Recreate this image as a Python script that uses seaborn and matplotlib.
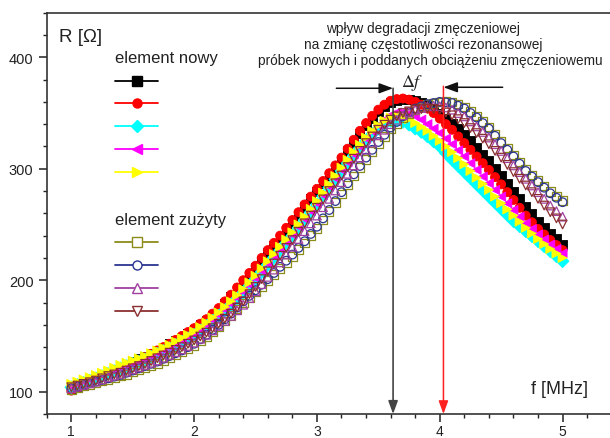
import numpy as np
import pandas as pd
import matplotlib
matplotlib.use("Agg")
import matplotlib.pyplot as plt
from matplotlib.lines import Line2D
from matplotlib.ticker import MultipleLocator
import seaborn as sns

# Measurement grid: frequency in MHz
freq_mhz = np.round(np.linspace(1.0, 5.0, 81), 2)

# Resistance R [Ohm] of new elements
r_new_1 = [102, 104.5, 107, 109.5, 112, 114.5, 117, 119.5, 122, 124.5, 127, 129.5, 132, 134.5, 137, 140,
           143, 146, 149, 152.5, 156, 160, 164, 168.5, 173, 179, 185, 191.5, 198, 204.5, 211, 218,
           225, 231.5, 238, 245, 252, 259, 266, 273, 280, 287, 294, 301, 308, 316, 324, 332,
           339, 345.5, 351, 355.5, 359, 361, 362, 362, 361, 359.5, 357, 354, 350, 345.5, 341, 336,
           331, 325, 319, 313, 307, 300.5, 294, 287, 280, 273, 266, 259.5, 253, 247.5, 242, 237, 232]
r_new_2 = [101, 103.5, 106, 108.5, 111, 113.5, 116, 118.5, 121, 123.5, 126, 128.5, 131, 134, 137, 140,
           143, 146.5, 150, 153.5, 157, 161, 165, 170, 175, 181, 187, 193.5, 200, 206.5, 213, 220,
           227, 233.5, 240, 247, 254, 261, 268, 275, 282, 289, 296, 303, 310, 318, 326, 334,
           341, 347.5, 353, 357.5, 361, 362.5, 363, 362, 360, 357.5, 354, 350, 345, 340, 335, 329,
           323, 317, 311, 305, 299, 292.5, 286, 279, 272, 265, 258, 252, 246, 241, 236, 231.5, 227]
r_new_3 = [104, 106, 108, 110, 112, 114, 116, 118.5, 121, 123, 125, 127, 129, 131.5, 134, 136.5,
           139, 142, 145, 148, 151, 155, 159, 163.5, 168, 173, 178, 183.5, 189, 195, 201, 207.5,
           214, 220.5, 227, 233.5, 240, 247, 254, 261, 268, 275.5, 283, 290.5, 298, 305, 312, 318.5,
           325, 331, 336, 340, 343, 343.5, 342, 339.5, 336, 333, 329, 324.5, 320, 314, 308, 302.5,
           297, 291.5, 286, 280.5, 275, 269.5, 264, 258.5, 253, 248.5, 244, 239.5, 235, 230.5, 226, 221.5, 217]
r_new_4 = [105, 107, 109, 111, 113, 115, 117, 119.5, 122, 124, 126, 128, 130, 132.5, 135, 137.5,
           140, 143, 146, 149, 152, 156, 160, 164.5, 169, 174, 179, 184.5, 190, 196, 202, 208.5,
           215, 221.5, 228, 234.5, 241, 248, 255, 262, 269, 276.5, 284, 291.5, 299, 306, 313, 320,
           327, 333.5, 339, 344, 348, 350.5, 351, 349.5, 347, 344, 340, 336, 332, 327, 322, 316.5,
           311, 305, 299, 293, 287, 281, 275, 269, 263, 257, 251, 246, 241, 236.5, 232, 228, 224]
r_new_5 = [107, 109, 111, 113, 115, 117, 119, 121.5, 124, 126, 128, 130, 132, 134.5, 137, 139.5,
           142, 145, 148, 151, 154, 158, 162, 166.5, 171, 176, 181, 186.5, 192, 198, 204, 210.5,
           217, 223.5, 230, 236.5, 243, 250, 257, 264, 271, 278.5, 286, 293.5, 301, 308, 315, 321.5,
           328, 334, 339, 343, 346, 347.5, 347, 344.5, 341, 337.5, 334, 329.5, 325, 320, 315, 309.5,
           304, 298, 292, 286.5, 281, 275, 269, 263.5, 258, 252.5, 247, 242, 237, 232.5, 228, 224, 220]

# Resistance R [Ohm] of fatigued (used) elements
r_used_1 = [102, 103.5, 105, 106.5, 108, 109.5, 111, 112.5, 114, 115.5, 117.5, 119.5, 121.5, 123.5, 125.5, 128,
            130.5, 133, 135.5, 138.5, 141.5, 145.5, 149.5, 154, 158.5, 163.5, 168.5, 174, 179.5, 184.5, 189.5, 194.5,
            199.5, 205, 210.5, 216, 221.5, 227.5, 233.5, 240, 246.5, 254, 261.5, 269.5, 277.5, 285.5, 293.5, 301,
            308.5, 315.5, 322.5, 329, 335.5, 340.5, 345.5, 349.5, 353, 355.5, 357.5, 359, 360, 360.5, 360, 358,
            355.5, 351.5, 347.5, 342.5, 337.5, 331, 324.5, 318.5, 312.5, 306, 299.5, 294.5, 289.5, 284.5, 279.5, 275.5, 271.5]
r_used_2 = [103, 104.5, 106, 107.5, 109, 110.5, 112, 113.5, 115, 117, 119, 121, 123, 125, 127, 129.5,
            132, 134.5, 137, 140, 143, 147, 151, 155.5, 160, 165, 170, 175.5, 181, 186, 191, 196,
            201, 206.5, 212, 217.5, 223, 229, 235, 241.5, 248, 255.5, 263, 271, 279, 287, 295, 302.5,
            310, 317, 324, 330.5, 337, 342, 347, 350.5, 354, 356, 358, 359, 360, 359.5, 359, 356.5,
            354, 350, 346, 341, 336, 329.5, 323, 317, 311, 304.5, 298, 293, 288, 283, 278, 274, 270]
r_used_3 = [103, 104.5, 106, 107.5, 109, 111, 113, 114.5, 116, 118, 120, 122, 124, 126, 128, 130.5,
            133, 135.5, 138, 141, 144, 147.5, 151, 155, 159, 163.5, 168, 173, 178, 184, 190, 196.5,
            203, 209.5, 216, 223, 230, 237, 244, 251, 258, 265.5, 273, 280.5, 288, 295.5, 303, 310,
            317, 323.5, 330, 335, 340, 344, 348, 350.5, 353, 354.5, 356, 356.5, 356, 355, 353, 350,
            347, 342.5, 338, 333, 328, 322, 316, 309.5, 303, 297, 291, 285, 279, 273, 267, 262, 257]
r_used_4 = [104, 105.5, 107, 108.5, 110, 112, 114, 115.5, 117, 119, 121, 123, 125, 127.5, 130, 132.5,
            135, 137.5, 140, 143, 146, 149.5, 153, 157, 161, 165.5, 170, 175.5, 181, 187.5, 194, 201,
            208, 215, 222, 229, 236, 243.5, 251, 258, 265, 272.5, 280, 287, 294, 301.5, 309, 316,
            323, 329, 335, 339.5, 344, 347, 350, 351.5, 353, 353.5, 354, 353.5, 353, 350.5, 348, 344.5,
            341, 336.5, 332, 327, 322, 316, 310, 303.5, 297, 291, 285, 279, 273, 267, 261, 255.5, 250]

new_names = ["nowy 1", "nowy 2", "nowy 3", "nowy 4", "nowy 5"]
new_colors = ["#000000", "#ff0000", "#00ffff", "#ff00ff", "#ffff00"]
new_markers = ["s", "o", "D", "<", ">"]
used_names = ["zużyty 1", "zużyty 2", "zużyty 3", "zużyty 4"]
used_colors = ["#8c8c1a", "#2b3590", "#a040a0", "#8b3030"]
used_markers = ["s", "o", "^", "v"]

# Resonance frequencies marked by the arrows [MHz]
f_res_new = 3.62
f_res_used = 4.03

new_df = pd.concat([pd.DataFrame({"f": freq_mhz, "R": r, "seria": n})
                    for n, r in zip(new_names, [r_new_1, r_new_2, r_new_3, r_new_4, r_new_5])],
                   ignore_index=True)
used_df = pd.concat([pd.DataFrame({"f": freq_mhz, "R": r, "seria": n})
                     for n, r in zip(used_names, [r_used_1, r_used_2, r_used_3, r_used_4])],
                    ignore_index=True)

sns.set_theme(style="ticks")
plt.rcParams["font.family"] = ["Liberation Sans", "DejaVu Sans"]
plt.rcParams["mathtext.fontset"] = "stix"

fig = plt.figure(figsize=(6.1, 4.39), dpi=100)
ax = fig.add_axes([0.0766, 0.0547, 0.9262, 0.9141])

sns.scatterplot(data=new_df, x="f", y="R", hue="seria", style="seria",
                palette=dict(zip(new_names, new_colors)),
                markers=dict(zip(new_names, new_markers)),
                s=42, edgecolor="face", linewidth=0.6, legend=False, ax=ax, zorder=3)

sns.scatterplot(data=used_df, x="f", y="R", hue="seria", style="seria",
                palette=dict(zip(used_names, used_colors)),
                markers=dict(zip(used_names, used_markers)),
                s=38, linewidth=0.9, legend=False, ax=ax, zorder=4)
hollow = ax.collections[-1]
hollow.set_edgecolors(hollow.get_facecolors())
hollow.set_facecolors("none")

ax.set_xlim(0.8, 5.4)
ax.set_ylim(80, 440)
ax.xaxis.set_major_locator(MultipleLocator(1))
ax.xaxis.set_minor_locator(MultipleLocator(0.2))
ax.yaxis.set_major_locator(MultipleLocator(100))
ax.yaxis.set_minor_locator(MultipleLocator(20))
ax.set_xlabel("")
ax.set_ylabel("")
ax.tick_params(which="major", length=6, width=1.1, direction="out", labelsize=10.5,
               pad=3.5, colors="#222222")
ax.tick_params(which="minor", length=3, width=1.0, direction="out", colors="#222222")
ax.tick_params(axis="x", which="major", labelsize=10, pad=1.2)
for side in ["left", "bottom", "top"]:
    ax.spines[side].set_linewidth(1.2)
    ax.spines[side].set_color("#333333")
ax.spines["right"].set_visible(False)

ax.text(0.9, 419, "R [Ω]", fontsize=13.5, ha="left", va="center", color="#222222")
ax.text(4.746, 102.5, "f [MHz]", fontsize=13, ha="left", va="center", color="#222222")

# Resonance markers and the frequency shift
head = "-|>,head_length=0.6,head_width=0.22"
ax.annotate("", xy=(f_res_new, 80), xytext=(f_res_new, 372.2),
            arrowprops=dict(arrowstyle=head, color="#444444", lw=1.2,
                            shrinkA=0, shrinkB=0, mutation_scale=13), zorder=5)
ax.annotate("", xy=(f_res_used, 80), xytext=(f_res_used, 374),
            arrowprops=dict(arrowstyle=head, color="#ff2020", lw=1.1,
                            shrinkA=0, shrinkB=0, mutation_scale=13), zorder=5)
ax.annotate("", xy=(f_res_new, 372.2), xytext=(3.158, 372.2),
            arrowprops=dict(arrowstyle=head, color="#111111", lw=1.1,
                            shrinkA=0, shrinkB=0, mutation_scale=14), zorder=5)
ax.annotate("", xy=(f_res_used, 373.1), xytext=(4.512, 373.1),
            arrowprops=dict(arrowstyle=head, color="#111111", lw=1.1,
                            shrinkA=0, shrinkB=0, mutation_scale=14), zorder=5)
ax.text(3.777, 378, r"$\Delta f$", fontsize=13, ha="center", va="center", color="#222222")

ax.text(3.862, 426.3, "wpływ degradacji zmęczeniowej", fontsize=9.8, ha="center", va="center",
        color="#222222")
ax.text(3.866, 411.9, "na zmianę częstotliwości rezonansowej", fontsize=9.8, ha="center",
        va="center", color="#222222")
ax.text(3.927, 397.6, "próbek nowych i poddanych obciążeniu zmęczeniowemu", fontsize=9.8,
        ha="center", va="center", color="#222222")

# Legends for both groups of samples
new_handles = [Line2D([0], [0], color=c, lw=1.3, marker=m, markersize=6.5,
                      markerfacecolor=c, markeredgecolor=c)
               for c, m in zip(new_colors, new_markers)]
used_handles = [Line2D([0], [0], color=c, lw=1.3, marker=m, markersize=6.5,
                       markerfacecolor="white", markeredgecolor=c, markeredgewidth=1.0)
                for c, m in zip(used_colors, used_markers)]
leg_kw = dict(loc="upper left", bbox_transform=fig.transFigure, frameon=False, fontsize=10,
              title_fontsize=12, handlelength=3.1, handletextpad=0, borderpad=0,
              borderaxespad=0, labelspacing=0.64, alignment="left")
leg1 = ax.legend(new_handles, [""] * 5, title="element nowy",
                 bbox_to_anchor=(115 / 610, 1 - 51.5 / 439), **leg_kw)
ax.add_artist(leg1)
leg2 = ax.legend(used_handles, [""] * 4, title="element zużyty",
                 bbox_to_anchor=(115 / 610, 1 - 213 / 439), **leg_kw)
for lg in (leg1, leg2):
    lg.get_title().set_color("#222222")

fig.savefig("out.png", dpi=100)
